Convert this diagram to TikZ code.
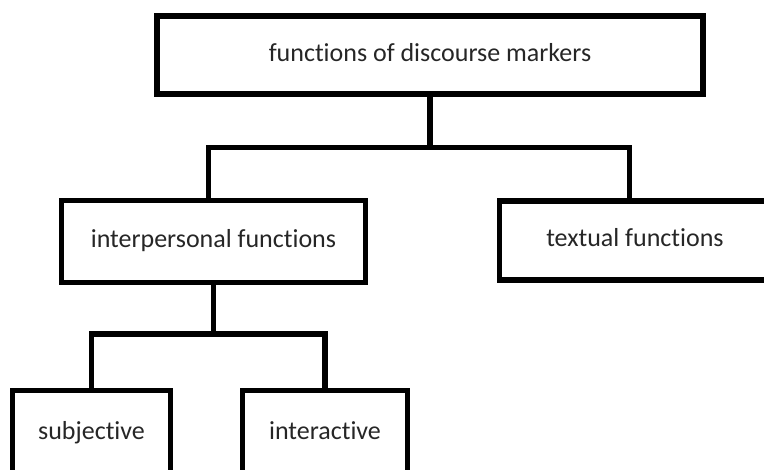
\documentclass[tikz,border=0pt]{standalone}
\usepackage{fontspec}
\setmainfont[Ligatures={NoCommon,NoRare,NoDiscretionary,NoContextual}]{Carlito}
\usetikzlibrary{positioning}
\definecolor{ink}{HTML}{000000}
\definecolor{txt}{HTML}{262626}
\tikzset{box/.style={draw=ink,line width=5.5pt,inner sep=0pt,text=txt,
    text height=18pt,text depth=5pt,font=\fontsize{26}{30}\selectfont},
  wire/.style={draw=ink,line width=5.5pt}}

\begin{document}
\begin{tikzpicture}[x=1pt,y=-1pt]
\useasboundingbox (0,0) rectangle (764,470);
% boxes
\node[box,minimum width=546,minimum height=78] (fdm) at (430,55) {functions of discourse markers};
\node[box,minimum width=304,minimum height=82] (ipf) at (213.5,241.5) {interpersonal functions};
\node[box,minimum width=271,minimum height=79] (txf) at (635,240.5) {textual functions};
\node[box,minimum width=158,minimum height=85] (subj) at (91.5,433) {subjective};
\node[box,minimum width=165,minimum height=85] (intv) at (325,433) {interactive};
% connectors
\coordinate (j1) at (430,147.5);
\coordinate (j2) at (213.5,334);
\draw[wire] (fdm.south) -- (j1);
\draw[wire] ([xshift=-5pt]ipf.north) |- (j1) -| ([xshift=-5.5pt]txf.north);
\draw[wire] (ipf.south) -- (j2);
\draw[wire] (subj.north) |- (j2) -| (intv.north);
\end{tikzpicture}
\end{document}
